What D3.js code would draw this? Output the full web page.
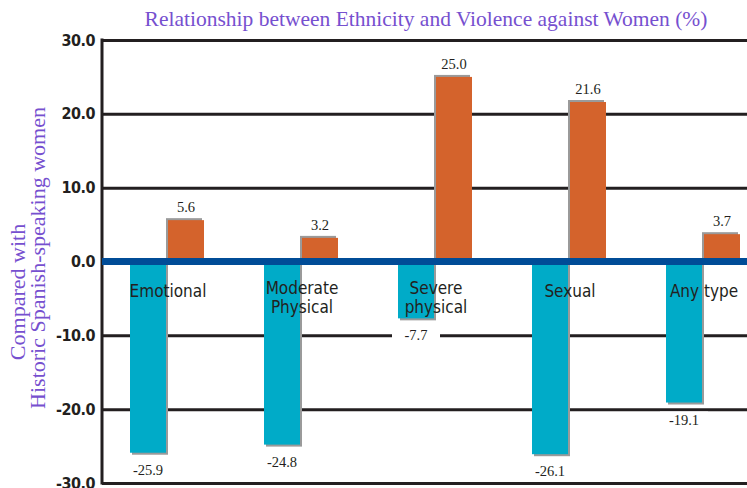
<!DOCTYPE html>
<html>
<head>
<meta charset="utf-8">
<script src="https://cdn.jsdelivr.net/npm/d3@7"></script>
<style>
  html, body { margin: 0; padding: 0; background: #fff; }
  svg { display: block; }
</style>
</head>
<body>
<svg id="chart" width="747" height="488"></svg>
<script>
// ── data
const categories = ['Emotional', 'Moderate Physical', 'Severe physical', 'Sexual', 'Any type'];
const catLines   = [['Emotional'], ['Moderate', 'Physical'], ['Severe', 'physical'], ['Sexual'], ['Any type']];
const negValues  = [-25.9, -24.8, -7.7, -26.1, -19.1];
const posValues  = [5.6, 3.2, 25.0, 21.6, 3.7];
const yTicks     = [-30, -20, -10, 0, 10, 20, 30];

const W = 747, H = 488;
const padLeft = 102, padTop = 40, padBottom = 483;
const SERIF = "'Liberation Serif', 'DejaVu Serif', serif";
const NARROW = "'DejaVu Sans Condensed', 'Liberation Sans Narrow', 'Roboto Condensed', 'Liberation Sans', sans-serif";

const svg = d3.select('#chart');

const x = d3.scaleBand().domain(categories).range([100, 770]).padding(0);
const y = d3.scaleLinear().domain([-30, 30]).range([padBottom, padTop]);

// gridlines + tick labels
const axis = svg.append('g')
  .attr('transform', `translate(${padLeft},0)`)
  .call(d3.axisLeft(y).tickValues(yTicks).tickSize(-(W - padLeft)).tickPadding(7)
    .tickFormat(d => d < 0 ? '-' + d3.format('.1f')(-d) : d3.format('.1f')(d)));
axis.select('.domain').remove();
axis.selectAll('.tick line').attr('stroke', '#231f20').attr('stroke-width', 3);
axis.selectAll('.tick text')
  .attr('fill', '#231f20')
  .style('font-family', NARROW)
  .style('font-stretch', 'condensed')
  .style('font-weight', 'bold')
  .style('font-size', '16px')
  .style('letter-spacing', '-0.5px');

// left axis line
svg.append('line')
  .attr('x1', padLeft).attr('x2', padLeft).attr('y1', y(30) - 1.5).attr('y2', y(-30) + 1.5)
  .attr('stroke', '#231f20').attr('stroke-width', 3);

const cx = d => x(d) + x.bandwidth() / 2;
const bw = 36;

// value labels sit on a white patch that breaks the gridlines
function valueLabel(g, xPos, yPos, txt) {
  g.append('rect')
    .attr('x', xPos - 24).attr('y', yPos - 13).attr('width', 48).attr('height', 18)
    .attr('fill', '#fff');
  g.append('text')
    .attr('x', xPos).attr('y', yPos)
    .attr('text-anchor', 'middle')
    .attr('fill', '#231f20')
    .style('font-family', SERIF)
    .style('font-size', '14.5px')
    .text(txt);
}

const bars = svg.append('g');

// negative (cyan) bars, shadow to lower right
categories.forEach((c, i) => {
  const x0 = cx(c) - bw - 1;
  const y0 = y(0), y1 = y(negValues[i]);
  bars.append('rect')
    .attr('x', x0 + 2).attr('y', y0).attr('width', bw).attr('height', y1 - y0 + 2)
    .attr('fill', '#9a9a9a');
  bars.append('rect')
    .attr('x', x0).attr('y', y0).attr('width', bw).attr('height', y1 - y0)
    .attr('fill', '#00abc8');
});

// positive (orange) bars, shadow to upper left
categories.forEach((c, i) => {
  const x0 = cx(c) + 1;
  const y0 = y(0), y1 = y(posValues[i]);
  bars.append('rect')
    .attr('x', x0 - 2).attr('y', y1 - 2).attr('width', bw).attr('height', y0 - y1 + 2)
    .attr('fill', '#9a9a9a');
  bars.append('rect')
    .attr('x', x0).attr('y', y1).attr('width', bw).attr('height', y0 - y1)
    .attr('fill', '#d4632c');
});

// zero line
svg.append('line')
  .attr('x1', padLeft).attr('x2', W).attr('y1', y(0)).attr('y2', y(0))
  .attr('stroke', '#004c97').attr('stroke-width', 7);

// category labels
const catG = svg.append('g');
categories.forEach((c, i) => {
  const t = catG.append('text')
    .attr('x', cx(c) + 1).attr('y', y(0) + (catLines[i].length > 1 ? 32 : 35))
    .attr('text-anchor', 'middle')
    .attr('fill', '#231f20')
    .style('font-family', NARROW)
    .style('font-stretch', 'condensed')
    .style('font-size', '17px');
  catLines[i].forEach((ln, k) => {
    t.append('tspan').attr('x', cx(c) + 1).attr('dy', k === 0 ? 0 : 19).text(ln);
  });
});

// value labels
const labG = svg.append('g');
categories.forEach((c, i) => {
  valueLabel(labG, cx(c) - 19, y(negValues[i]) + 22, negValues[i].toFixed(1));
  valueLabel(labG, cx(c) + 19, y(posValues[i]) - 8, posValues[i].toFixed(1));
});

// title
svg.append('text')
  .attr('x', 426).attr('y', 26)
  .attr('text-anchor', 'middle')
  .attr('fill', '#7650cf')
  .style('font-family', SERIF)
  .style('font-size', '21.5px')
  .text('Relationship between Ethnicity and Violence against Women (%)');

// y-axis title
svg.append('text')
  .attr('transform', `translate(25, 292) rotate(-90)`)
  .attr('text-anchor', 'middle')
  .attr('fill', '#7650cf')
  .style('font-family', SERIF)
  .style('font-size', '22px')
  .text('Compared with');
svg.append('text')
  .attr('transform', `translate(45, 258) rotate(-90)`)
  .attr('text-anchor', 'middle')
  .attr('fill', '#7650cf')
  .style('font-family', SERIF)
  .style('font-size', '22px')
  .text('Historic Spanish-speaking women');
</script>
</body>
</html>
